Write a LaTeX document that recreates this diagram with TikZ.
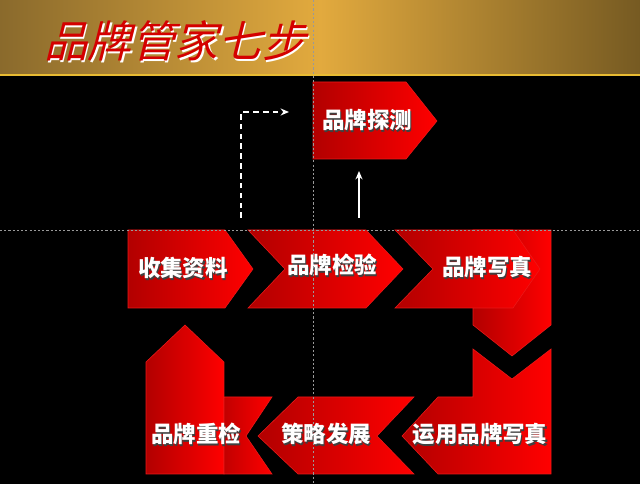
\documentclass[tikz,border=0pt]{standalone}
\usepackage{xcolor}
\usepackage{fontspec}
\newfontfamily\cjk{Noto Sans CJK SC}
\newfontfamily\cjkslant{Noto Sans CJK SC}[FakeSlant=0.25]
\usepackage{tikz}
\usetikzlibrary{arrows.meta, positioning, calc}
\definecolor{stepdark}{RGB}{178,0,0}
\definecolor{stepbright}{RGB}{255,0,0}
\definecolor{stepedge}{RGB}{235,25,25}
\definecolor{golddark}{RGB}{138,106,44}
\definecolor{goldmid}{RGB}{226,170,62}
\definecolor{goldend}{RGB}{118,90,34}
\definecolor{titlered}{RGB}{212,0,0}
\newcommand\shadowed[2]{\makebox[0pt][l]{\hspace{1pt}\raisebox{-1pt}{\textcolor{#1}{#2}}}#2}
\tikzset{
  stepshape/.style = {left color=stepdark, right color=stepbright, draw=stepedge, line width=0.4pt},
  steptext/.style  = {text=white, font=\cjk\bfseries\fontsize{16}{18}\selectfont, inner sep=0pt},
  titletext/.style = {text=titlered, font=\cjkslant\fontsize{31}{34}\selectfont, inner sep=0pt},
  guide/.style     = {gray!80, line width=0.4pt, dash pattern=on 1.5pt off 1.5pt},
  arrow/.style     = {white, line width=1.2pt, -{Stealth[length=6pt,width=5pt]}},
  dasharrow/.style = {arrow, dash pattern=on 4pt off 3pt},
}
\begin{document}
\begin{tikzpicture}[x=0.025cm, y=-0.025cm]

    %% Background and header band
    \fill[black] (0,0) rectangle (640,484);
    \useasboundingbox (0,0) rectangle (640,484);
    \shade[left color=golddark, right color=goldend, middle color=goldmid] (0,0) rectangle (640,74);
    \fill[goldmid!80!yellow] (0,74) rectangle (640,76);
    \node[titletext] (title) at (175,42) {\shadowed{white}{品牌管家七步}};

    %% Step shapes
    \draw[stepshape] (313,82) -- (406,82) -- (437,121) -- (406,159) -- (313,159) -- cycle;
    \draw[stepshape] (128,230) -- (225,230) -- (253,269) -- (225,308) -- (128,308) -- cycle;
    \draw[stepshape] (248,230) -- (366,230) -- (403,269) -- (366,308) -- (248,308) -- (285,269) -- cycle;
    \draw[stepshape] (473,230) -- (551,230) -- (551,325) -- (512,356) -- (473,325) -- cycle;
    \draw[stepshape] (395,230) -- (513,230) -- (540,269) -- (513,308) -- (395,308) -- (433,269) -- cycle;
    \draw[stepshape] (473,349) -- (512,379) -- (551,349) -- (551,474) -- (438,474)
                     -- (402,436) -- (438,397) -- (473,397) -- cycle;
    \draw[stepshape] (414,397) -- (377,436) -- (414,474) -- (298,474) -- (258,436) -- (298,397) -- cycle;
    \draw[stepshape] (146,474) -- (146,362) -- (185,325) -- (224,362) -- (224,474) -- cycle;
    \draw[stepshape, left color=stepdark!80!stepbright]
                     (224,397) -- (272,397) -- (246,436) -- (272,474) -- (224,474) -- cycle;

    %% Step labels
    \node[steptext] (detect)  at (367,121) {\shadowed{black!75}{品牌探测}};
    \node[steptext] (collect) at (183,269) {\shadowed{black!75}{收集资料}};
    \node[steptext] (check)   at (332,266) {\shadowed{black!75}{品牌检验}};
    \node[steptext] (photo)   at (487,268) {\shadowed{black!75}{品牌写真}};
    \node[steptext] (apply)   at (480,435) {\shadowed{black!75}{运用品牌写真}};
    \node[steptext] (plan)    at (326,435) {\shadowed{black!75}{策略发展}};
    \node[steptext] (recheck) at (196,435) {\shadowed{black!75}{品牌重检}};

    %% Arrows
    \coordinate (dashstart) at (241,218);
    \coordinate (dashcorner) at (241,112);
    \coordinate (dashend) at (289,112);
    \coordinate (upstart) at (359,218);
    \coordinate (upend) at (359,171);
    \draw[dasharrow] (dashstart) -- (dashcorner) -- (dashend);
    \draw[arrow] (upstart) -- (upend);

    %% Guides
    \coordinate (gtop) at (313,0);
    \coordinate (gbot) at (313,484);
    \coordinate (gleft) at (0,230);
    \coordinate (gright) at (640,230);
    \draw[guide] (gtop) -- (gbot);
    \draw[guide] (gleft) -- (gright);

  \end{tikzpicture}
\end{document}
